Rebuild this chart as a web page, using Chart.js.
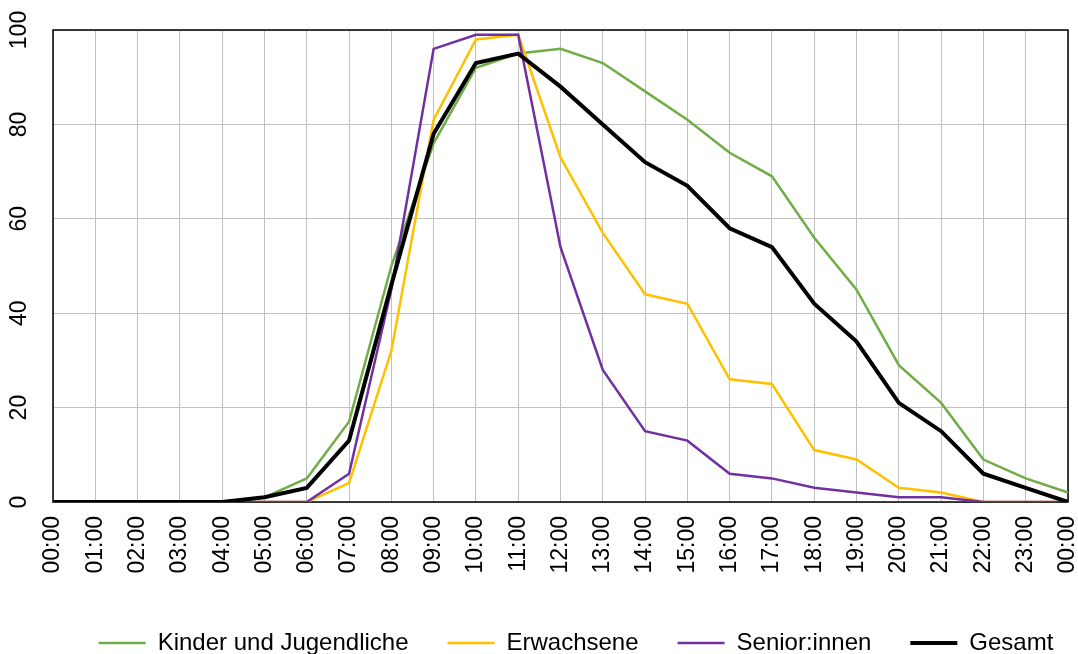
<!DOCTYPE html>
<html>
<head>
<meta charset="utf-8">
<script src="https://cdn.jsdelivr.net/npm/chart.js@4/dist/chart.umd.min.js"></script>
<style>
  html, body { margin: 0; padding: 0; background: #ffffff; }
  #wrap { width: 1078px; height: 654px; }
</style>
</head>
<body>
<div id="wrap"><canvas id="c" width="1078" height="654"></canvas></div>
<script>
const categories = ["00:00","01:00","02:00","03:00","04:00","05:00","06:00","07:00","08:00","09:00","10:00","11:00","12:00","13:00","14:00","15:00","16:00","17:00","18:00","19:00","20:00","21:00","22:00","23:00","00:00"];
const kinder     = [0,0,0,0,0,1,5,17,50,76,92,95,96,93,87,81,74,69,56,45,29,21,9,5,2];
const erwachsene = [0,0,0,0,0,0,0,4,32,81,98,99,73,57,44,42,26,25,11,9,3,2,0,0,0];
const senioren   = [0,0,0,0,0,0,0,6,45,96,99,99,54,28,15,13,6,5,3,2,1,1,0,0,0];
const gesamt     = [0,0,0,0,0,1,3,13,46,78,93,95,88,80,72,67,58,54,42,34,21,15,6,3,0];
const seriesNames = ["Kinder und Jugendliche","Erwachsene","Senior:innen","Gesamt"];
const yTickValues = [0,20,40,60,80,100];

const FONT = "'Liberation Sans', Arial, Helvetica, sans-serif";

const framePlugin = {
  id: 'frame',
  beforeDatasetsDraw(chart) {
    const a = chart.chartArea, ctx = chart.ctx;
    ctx.save();
    ctx.strokeStyle = '#000000';
    ctx.lineWidth = 1.5;
    ctx.strokeRect(a.left, a.top, a.right - a.left, a.bottom - a.top);
    ctx.restore();
  }
};

const yLabelPlugin = {
  id: 'yLabels',
  afterDraw(chart) {
    const s = chart.scales.y, ctx = chart.ctx;
    ctx.save();
    ctx.fillStyle = '#000000';
    ctx.font = '23px ' + FONT;
    ctx.textAlign = 'center';
    ctx.textBaseline = 'middle';
    s.ticks.forEach(t => {
      const py = s.getPixelForValue(t.value);
      ctx.save();
      ctx.translate(chart.chartArea.left - 33, py);
      ctx.rotate(-Math.PI / 2);
      ctx.fillText(String(t.value), 0, 0);
      ctx.restore();
    });
    ctx.restore();
  }
};

const legendShift = {
  id: 'legendShift',
  afterLayout(chart) {
    const l = chart.legend;
    if (!l) return;
    const dx = 37, dy = 11;
    l.left += dx; l.right += dx;
    l.top += dy; l.bottom += dy;
  }
};

new Chart(document.getElementById('c'), {
  type: 'line',
  data: {
    labels: categories,
    datasets: [
      { label: seriesNames[0], data: kinder, borderColor: '#70AD47', backgroundColor: '#70AD47', borderWidth: 2.5, order: 3 },
      { label: seriesNames[1], data: erwachsene, borderColor: '#FFC000', backgroundColor: '#FFC000', borderWidth: 2.5, order: 2 },
      { label: seriesNames[2], data: senioren, borderColor: '#7030A0', backgroundColor: '#7030A0', borderWidth: 2.5, order: 1 },
      { label: seriesNames[3], data: gesamt, borderColor: '#000000', backgroundColor: '#000000', borderWidth: 4, order: 0 }
    ]
  },
  options: {
    responsive: false,
    animation: false,
    devicePixelRatio: 1,
    elements: { point: { radius: 0, hoverRadius: 0 }, line: { tension: 0, borderJoinStyle: 'miter' } },
    layout: { padding: { top: 30, left: 0, right: 0, bottom: 0 } },
    scales: {
      x: {
        type: 'category',
        offset: false,
        afterFit(scale) { scale.paddingLeft = 0; scale.paddingRight = 10; scale.height = 79; },
        grid: { color: '#c0c0c0', lineWidth: 1, drawTicks: false },
        border: { display: false },
        ticks: { autoSkip: false, maxRotation: 90, minRotation: 90, padding: 14, color: '#000000', font: { size: 23, family: FONT } }
      },
      y: {
        min: 0, max: 100,
        afterBuildTicks(scale) { scale.ticks = yTickValues.map(v => ({ value: v })); },
        afterFit(scale) { scale.width = 53; scale.paddingTop = 0; scale.paddingBottom = 0; },
        grid: { color: '#c0c0c0', lineWidth: 1, drawTicks: false },
        border: { display: false },
        ticks: { display: false }
      }
    },
    plugins: {
      legend: {
        position: 'bottom',
        labels: {
          usePointStyle: true, pointStyle: 'line', pointStyleWidth: 47,
          padding: 39, color: '#000000', font: { size: 24, family: FONT },
          sort: (a, b) => a.datasetIndex - b.datasetIndex
        }
      },
      tooltip: { enabled: false }
    }
  },
  plugins: [framePlugin, yLabelPlugin, legendShift]
});
</script>
</body>
</html>
